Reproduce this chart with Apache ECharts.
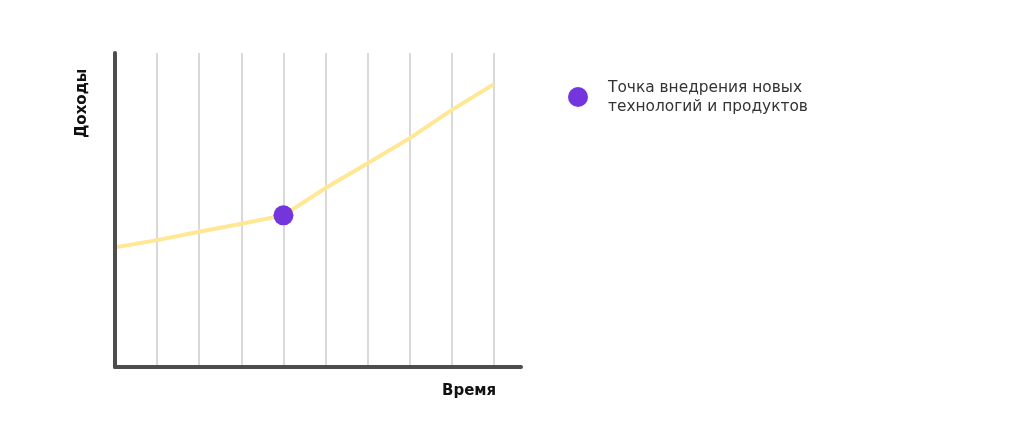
<!DOCTYPE html>
<html>
<head>
<meta charset="utf-8">
<script src="https://cdn.jsdelivr.net/npm/echarts@6/dist/echarts.min.js"></script>
<style>
  html, body { margin: 0; padding: 0; background: #fff; }
  #chart { width: 1024px; height: 431px; }
</style>
</head>
<body>
<div id="chart"></div>
<script>
// шаги времени по оси X
var periods = [0, 1, 2, 3, 4, 5, 6, 7, 8, 9]
// доходы (условные единицы, 0..100)
var income = [38.1, 40.4, 43.1, 45.6, 48.3, 57.0, 64.9, 72.9, 81.9, 90.1]
// вертикальные линии сетки
var gridTicks = [1, 2, 3, 4, 5, 6, 7, 8, 9]
// точка внедрения
var pointIndex = 4
var pointName = 'Точка внедрения новых\nтехнологий и продуктов'

var chartDom = document.getElementById('chart')
var myChart = echarts.init(chartDom)

var lineData = periods.map(function (p, i) { return [p, income[i]] })

var option = {
  animation: false,
  textStyle: { fontFamily: '"DejaVu Sans", sans-serif' },
  legend: {
    data: [pointName],
    left: 563,
    top: 73,
    icon: 'circle',
    itemWidth: 20,
    itemHeight: 20,
    selectedMode: false,
    textStyle: {
      color: '#333',
      fontSize: 15.4,
      fontFamily: '"DejaVu Sans", sans-serif',
      lineHeight: 19,
      padding: [0, 0, 0, 15]
    }
  },
  grid: {
    left: 115,
    right: 503,
    top: 53,
    bottom: 64
  },
  xAxis: {
    type: 'value',
    min: 0,
    max: 9.64,
    z: 5,
    axisLine: { show: true, lineStyle: { color: '#4d4d4d', width: 4 } },
    axisTick: { show: false },
    axisLabel: { show: false },
    splitLine: { show: false }
  },
  yAxis: {
    type: 'value',
    min: 0,
    max: 100,
    z: 5,
    axisLine: { show: true, lineStyle: { color: '#4d4d4d', width: 4 } },
    axisTick: { show: false },
    axisLabel: { show: false },
    splitLine: { show: false }
  },
  graphic: [
    {
      type: 'text',
      left: 442,
      top: 384,
      style: { text: 'Время', font: 'bold 15px "DejaVu Sans", sans-serif', fill: '#111' }
    },
    {
      type: 'text',
      x: 75,
      y: 138,
      rotation: Math.PI / 2,
      style: { text: 'Доходы', font: 'bold 15px "DejaVu Sans", sans-serif', fill: '#111' }
    }
  ],
  series: [
    {
      // линии сетки
      name: 'grid',
      type: 'line',
      data: [],
      z: 1,
      silent: true,
      markLine: {
        silent: true,
        z: 1,
        symbol: 'none',
        label: { show: false },
        lineStyle: { color: '#d9d9d9', width: 2, type: 'solid' },
        data: gridTicks.map(function (t) { return { xAxis: t } })
      }
    },
    {
      name: 'income',
      type: 'line',
      z: 2,
      silent: true,
      symbol: 'none',
      lineStyle: { color: '#ffe794', width: 4 },
      data: lineData
    },
    {
      name: pointName,
      type: 'scatter',
      z: 6,
      silent: true,
      symbolSize: 20,
      itemStyle: { color: '#7535dc', opacity: 1 },
      data: [lineData[pointIndex]]
    }
  ]
}
option && myChart.setOption(option)
</script>
</body>
</html>
